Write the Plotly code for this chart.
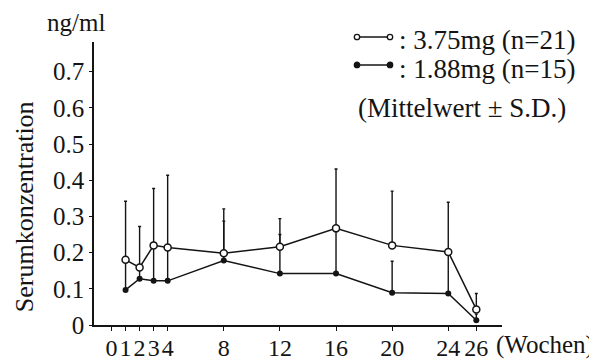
import plotly.graph_objects as go

weeks = [1, 2, 3, 4, 8, 12, 16, 20, 24, 26]
dose_375 = [0.18, 0.159, 0.22, 0.214, 0.198, 0.216, 0.267, 0.22, 0.202, 0.043]
sd_top_375 = [0.342, 0.272, 0.377, 0.414, 0.321, 0.294, 0.431, 0.37, 0.339, 0.087]
dose_188 = [0.097, 0.128, 0.122, 0.122, 0.178, 0.142, 0.142, 0.089, 0.087, 0.013]
sd_top_188 = [0.18, 0.155, 0.22, 0.214, 0.287, 0.25, 0.27, 0.176, 0.2, 0.03]
x_ticks = [0, 1, 2, 3, 4, 8, 12, 16, 20, 24, 26]
y_ticks = [0, 0.1, 0.2, 0.3, 0.4, 0.5, 0.6, 0.7]
y_ticktext = ["0", "0.1", "0.2", "0.3", "0.4", "0.5", "0.6", "0.7"]

INK = "#141414"
FONT = "Liberation Serif, Times New Roman, serif"
OFF = 8  # page body margin offsets the figure inside the 597x361 window
W, H = 597 - OFF, 361 - OFF
# plot area edges in window pixels
X_LEFT, X_RIGHT, Y_TOP, Y_BOT = 94, 502, 42, 325.5
L = X_LEFT - OFF
R = W - (X_RIGHT - OFF)
T = Y_TOP - OFF
B = H - (Y_BOT - OFF)
PW, PH = W - L - R, H - T - B


def px(x):
    return (x - OFF - L) / PW


def py(y):
    return (H - B - (y - OFF)) / PH


fig = go.Figure()

fig.add_trace(go.Scatter(
    x=weeks, y=dose_188, mode="lines+markers",
    line=dict(color=INK, width=1.5),
    marker=dict(symbol="circle", size=6, color=INK),
    error_y=dict(type="data", symmetric=False,
                 array=[t - v for t, v in zip(sd_top_188, dose_188)],
                 arrayminus=[0] * len(weeks), color=INK, thickness=1.4, width=1.5),
    showlegend=False,
))
fig.add_trace(go.Scatter(
    x=weeks, y=dose_375, mode="lines+markers",
    line=dict(color=INK, width=1.5),
    marker=dict(symbol="circle", size=7, color="white", line=dict(color=INK, width=1.5)),
    error_y=dict(type="data", symmetric=False,
                 array=[t - v for t, v in zip(sd_top_375, dose_375)],
                 arrayminus=[0] * len(weeks), color=INK, thickness=1.4, width=1.5),
    showlegend=False,
))

# legend drawn manually
shapes = []
for yy, fill in [(37, "white"), (65, INK)]:
    shapes.append(dict(type="line", xref="paper", yref="paper",
                       x0=px(357), x1=px(390), y0=py(yy), y1=py(yy),
                       line=dict(color=INK, width=1.4)))
    for xx in (357, 390):
        shapes.append(dict(type="circle", xref="paper", yref="paper",
                           xsizemode="pixel", ysizemode="pixel",
                           xanchor=px(xx), yanchor=py(yy),
                           x0=-2.7, x1=2.7, y0=-2.7, y1=2.7,
                           fillcolor=fill, line=dict(color=INK, width=1.3)))

annotations = [
    dict(text=": 3.75mg (n=21)", x=px(397), y=py(40), xanchor="left", yanchor="middle", size=27),
    dict(text=": 1.88mg (n=15)", x=px(397), y=py(69), xanchor="left", yanchor="middle", size=27),
    dict(text="(Mittelwert ± S.D.)", x=px(356), y=py(108), xanchor="left", yanchor="middle", size=27),
    dict(text="ng/ml", x=px(75.5), y=py(22), xanchor="center", yanchor="middle", size=25),
    dict(text="(Wochen)", x=px(545), y=py(346), xanchor="center", yanchor="middle", size=25),
    dict(text="Serumkonzentration", x=px(24), y=py(207.5), xanchor="center", yanchor="middle",
         textangle=-90, size=26),
]
for a in annotations:
    s = a.pop("size")
    a.update(xref="paper", yref="paper", showarrow=False,
             font=dict(family=FONT, size=s, color=INK))

fig.update_layout(
    template="none",
    width=W, height=H,
    margin=dict(l=L, r=R, t=T, b=B, pad=0),
    paper_bgcolor="white", plot_bgcolor="white",
    shapes=shapes, annotations=annotations,
    font=dict(family=FONT, size=24, color=INK),
    xaxis=dict(range=[-1.25, 27.83], tickvals=x_ticks, ticktext=[str(v) for v in x_ticks],
               tickangle=0, showline=True, linecolor=INK, linewidth=1.5, automargin=False,
               ticks="outside", ticklen=4, tickcolor=INK, showgrid=False, zeroline=False,
               ticklabelstandoff=-4,
               tickfont=dict(family=FONT, size=24, color=INK)),
    yaxis=dict(range=[0, 0.782], tickvals=y_ticks, ticktext=y_ticktext, automargin=False,
               showline=True, linecolor=INK, linewidth=1.5,
               ticks="outside", ticklen=3, tickcolor=INK, showgrid=False, zeroline=False,
               tickfont=dict(family=FONT, size=25, color=INK)),
)

fig.write_html("out.html")
